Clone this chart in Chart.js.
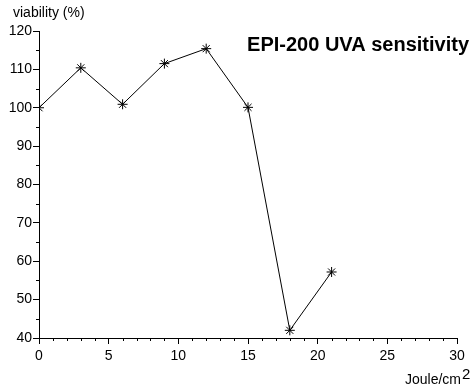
<!DOCTYPE html>
<html>
<head>
<meta charset="utf-8">
<script src="https://cdn.jsdelivr.net/npm/chart.js@4"></script>
<style>
  html, body { margin: 0; padding: 0; background: #fff; }
  #wrap { width: 473px; height: 391px; }
</style>
</head>
<body>
<div id="wrap"><canvas id="uvaChart" width="473" height="391"></canvas></div>
<script>
// Data
const doses = [0, 3, 6, 9, 12, 15, 18, 21];          // Joule/cm2
const viability = [100, 110.4, 100.9, 111.5, 115.4, 100.1, 42, 57.2];  // %

const xRange = [0, 30];
const yRange = [40, 120];
const chartTitle = 'EPI-200 UVA sensitivity';
const yTitle = 'viability (%)';
const xTitle = 'Joule/cm';
const xTitleSup = '2';

const FONT = '"Liberation Sans", Arial, sans-serif';

// Minor ticks, axis captions and the title drawn on top of the chart
const extrasPlugin = {
    id: 'extras',
    afterDraw(chart) {
        const ctx = chart.ctx;
        const xs = chart.scales.x;
        const ys = chart.scales.y;
        const area = chart.chartArea;
        ctx.save();
        ctx.strokeStyle = '#000';
        ctx.lineWidth = 1;
        ctx.beginPath();
        for (let v = xRange[0]; v <= xRange[1]; v++) {
            if (v % 5 === 0) continue;
            const px = Math.round(xs.getPixelForValue(v)) + 0.5;
            ctx.moveTo(px, area.bottom);
            ctx.lineTo(px, area.bottom + 3);
        }
        for (let v = yRange[0] + 5; v < yRange[1]; v += 10) {
            const py = Math.round(ys.getPixelForValue(v)) + 0.5;
            ctx.moveTo(area.left - 3, py);
            ctx.lineTo(area.left, py);
        }
        ctx.stroke();

        ctx.fillStyle = '#000';
        ctx.textBaseline = 'alphabetic';
        ctx.textAlign = 'left';
        ctx.font = '14px ' + FONT;
        ctx.fillText(yTitle, 13, 17);

        ctx.fillText(xTitle, 405, 384);
        const w = ctx.measureText(xTitle).width;
        ctx.font = '15px ' + FONT;
        ctx.fillText(xTitleSup, 405 + w + 1, 379);

        ctx.font = 'bold 20px ' + FONT;
        ctx.textAlign = 'right';
        ctx.fillText(chartTitle, 469, 51);
        ctx.restore();
    }
};

function initializeChart() {
    const ctx = document.getElementById('uvaChart').getContext('2d');
    new Chart(ctx, {
        type: 'line',
        data: {
            datasets: [{
                data: doses.map((d, i) => ({ x: d, y: viability[i] })),
                borderColor: '#000',
                borderWidth: 1,
                pointStyle: 'star',
                pointRadius: 5,
                pointBorderColor: '#000',
                pointBorderWidth: 1,
                fill: false,
                tension: 0
            }]
        },
        options: {
            responsive: false,
            animation: false,
            events: [],
            layout: { padding: { top: 31, right: 16, left: 0, bottom: 0 } },
            plugins: { legend: { display: false }, tooltip: { enabled: false } },
            scales: {
                x: {
                    type: 'linear',
                    min: xRange[0],
                    max: xRange[1],
                    afterFit(scale) { scale.height = 53; },
                    ticks: { stepSize: 5, color: '#000', padding: 4, maxRotation: 0,
                             font: { family: FONT, size: 14 } },
                    grid: { drawOnChartArea: false, drawTicks: true, tickLength: 6, tickColor: '#000' },
                    border: { color: '#000', width: 1 }
                },
                y: {
                    min: yRange[0],
                    max: yRange[1],
                    afterFit(scale) { scale.width = 39; },
                    ticks: { stepSize: 10, color: '#000', padding: 1,
                             font: { family: FONT, size: 14 } },
                    grid: { drawOnChartArea: false, drawTicks: true, tickLength: 6, tickColor: '#000' },
                    border: { color: '#000', width: 1 }
                }
            }
        },
        plugins: [extrasPlugin]
    });
}

window.onload = initializeChart;
</script>
</body>
</html>
